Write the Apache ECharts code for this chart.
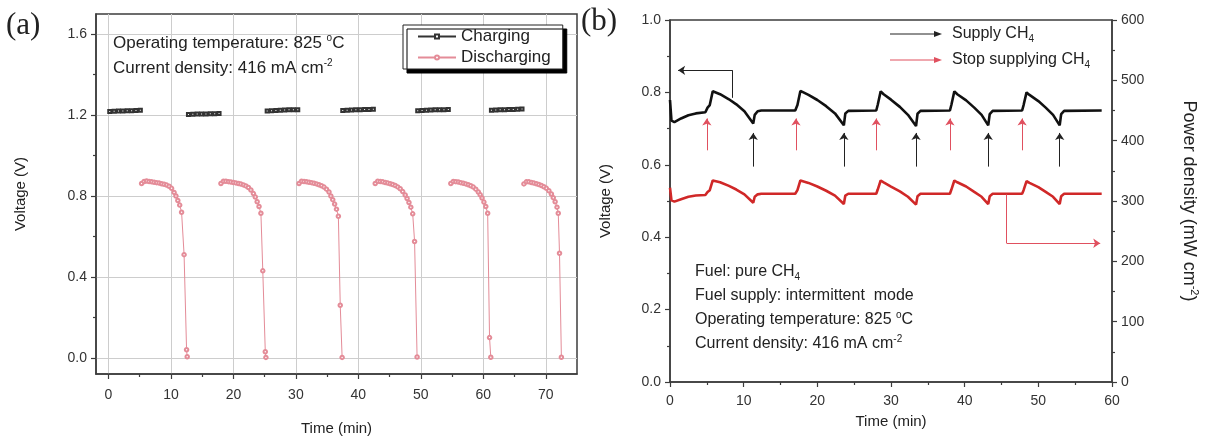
<!DOCTYPE html>
<html>
<head>
<meta charset="utf-8">
<script src="https://cdn.jsdelivr.net/npm/echarts@6/dist/echarts.min.js"></script>
<style>
  html, body { margin: 0; padding: 0; background: #fff; }
  #chart { width: 1208px; height: 439px; }
</style>
</head>
<body>
<div id="chart"></div>
<script>
// ---------- (a) charge / discharge cycling at 825 °C ----------
const chargeTimes = [
  [0.2, 0.9, 1.6, 2.3, 3.0, 3.7, 4.4, 5.1],
  [12.8, 13.5, 14.2, 14.9, 15.6, 16.3, 17.0, 17.7],
  [25.4, 26.1, 26.8, 27.5, 28.2, 28.9, 29.6, 30.3],
  [37.5, 38.2, 38.9, 39.6, 40.3, 41.0, 41.7, 42.4],
  [49.5, 50.2, 50.9, 51.6, 52.3, 53.0, 53.7, 54.4],
  [61.3, 62.0, 62.7, 63.4, 64.1, 64.8, 65.5, 66.2]
];
const chargeVolts = [
  [1.218, 1.219, 1.220, 1.221, 1.222, 1.222, 1.223, 1.224],
  [1.203, 1.204, 1.205, 1.205, 1.206, 1.207, 1.207, 1.208],
  [1.221, 1.222, 1.223, 1.224, 1.225, 1.226, 1.226, 1.227],
  [1.223, 1.224, 1.225, 1.226, 1.227, 1.228, 1.228, 1.229],
  [1.222, 1.223, 1.224, 1.225, 1.226, 1.226, 1.227, 1.228],
  [1.224, 1.225, 1.226, 1.227, 1.228, 1.228, 1.229, 1.230]
];
const dischargeTimes = [
  [5.3, 5.7, 6.1, 6.5, 6.9, 7.3, 7.7, 8.1, 8.5, 8.9, 9.3, 9.7, 10.1, 10.5, 10.8, 11.1, 11.4, 11.7, 12.1, 12.5, 12.6],
  [18.0, 18.4, 18.8, 19.2, 19.6, 20.0, 20.4, 20.8, 21.2, 21.6, 22.0, 22.4, 22.8, 23.2, 23.5, 23.8, 24.1, 24.4, 24.7, 25.1, 25.2],
  [30.5, 30.9, 31.3, 31.7, 32.1, 32.5, 32.9, 33.3, 33.7, 34.1, 34.5, 34.9, 35.3, 35.6, 35.9, 36.2, 36.5, 36.8, 37.1, 37.4],
  [42.7, 43.1, 43.5, 43.9, 44.3, 44.7, 45.1, 45.5, 45.9, 46.3, 46.7, 47.1, 47.5, 47.8, 48.1, 48.4, 48.7, 49.0, 49.4],
  [54.8, 55.2, 55.6, 56.0, 56.4, 56.8, 57.2, 57.6, 58.0, 58.4, 58.8, 59.2, 59.5, 59.8, 60.1, 60.4, 60.7, 61.0, 61.2],
  [66.5, 66.9, 67.3, 67.7, 68.1, 68.5, 68.9, 69.3, 69.7, 70.1, 70.5, 70.9, 71.2, 71.5, 71.8, 72.0, 72.2, 72.5]
];
const dischargeVolts = [
  [0.862, 0.872, 0.874, 0.872, 0.870, 0.868, 0.866, 0.864, 0.861, 0.858, 0.854, 0.848, 0.838, 0.818, 0.800, 0.778, 0.755, 0.720, 0.510, 0.040, 0.005],
  [0.862, 0.873, 0.873, 0.871, 0.869, 0.867, 0.865, 0.862, 0.859, 0.855, 0.850, 0.842, 0.830, 0.812, 0.795, 0.772, 0.748, 0.715, 0.430, 0.030, 0.002],
  [0.862, 0.873, 0.872, 0.870, 0.868, 0.866, 0.863, 0.860, 0.856, 0.851, 0.844, 0.834, 0.820, 0.800, 0.782, 0.760, 0.735, 0.700, 0.260, 0.002],
  [0.862, 0.873, 0.872, 0.870, 0.867, 0.864, 0.861, 0.857, 0.852, 0.845, 0.836, 0.822, 0.805, 0.788, 0.768, 0.745, 0.712, 0.575, 0.004],
  [0.862, 0.872, 0.871, 0.869, 0.866, 0.863, 0.860, 0.856, 0.851, 0.844, 0.834, 0.820, 0.806, 0.790, 0.770, 0.748, 0.715, 0.100, 0.003],
  [0.860, 0.870, 0.870, 0.867, 0.864, 0.861, 0.857, 0.852, 0.846, 0.838, 0.826, 0.810, 0.792, 0.772, 0.745, 0.715, 0.517, 0.003]
];
const timeTicksA = [0, 10, 20, 30, 40, 50, 60, 70];
const timeMinorA = [5, 15, 25, 35, 45, 55, 65];
const voltTicksA = [0, 0.4, 0.8, 1.2, 1.6];
const voltMinorA = [0.2, 0.6, 1.0, 1.4];

// ---------- (b) intermittent CH4 supply ----------
const timeB = [
  0, 0.2, 0.6, 1.5, 2.5, 3.5, 4.8, 5.1, 5.4, 5.8, 6.8, 8.0, 9.0, 10.1, 11.3, 11.5, 11.9, 12.4,
  17.0, 17.3, 17.7, 18.8, 20.0, 21.2, 22.4, 23.6, 23.8, 24.2,
  28.0, 28.2, 28.6, 29.0, 30.0, 31.2, 32.3, 33.4, 33.6, 34.0,
  38.0, 38.2, 38.6, 39.0, 40.2, 41.3, 42.3, 43.2, 43.4, 43.8,
  47.8, 48.0, 48.4, 48.8, 50.0, 51.0, 52.0, 52.9, 53.1, 53.5, 58.6
];
const voltageB = [
  0.779, 0.722, 0.718, 0.728, 0.737, 0.742, 0.745, 0.758, 0.765, 0.803, 0.795, 0.781, 0.767, 0.748, 0.714, 0.738, 0.748, 0.750,
  0.750, 0.765, 0.804, 0.793, 0.779, 0.762, 0.742, 0.709, 0.742, 0.749,
  0.750, 0.766, 0.803, 0.795, 0.780, 0.760, 0.738, 0.707, 0.741, 0.749,
  0.750, 0.766, 0.803, 0.795, 0.778, 0.758, 0.738, 0.709, 0.740, 0.749,
  0.750, 0.765, 0.800, 0.793, 0.776, 0.758, 0.738, 0.709, 0.740, 0.749, 0.750
];
const powerB = [
  322, 301, 299, 303, 307, 309, 310, 315, 318, 334, 331, 325, 319, 311, 297, 307, 311, 312,
  312, 318, 334, 330, 324, 317, 309, 295, 309, 312,
  312, 319, 334, 331, 324, 316, 307, 294, 308, 312,
  312, 319, 334, 331, 324, 315, 307, 295, 308, 312,
  312, 318, 333, 330, 323, 315, 307, 295, 308, 312, 312
];
const supplyTimes = [11.3, 23.6, 33.4, 43.2, 52.9];
const stopTimes = [5.0, 17.1, 28.0, 38.0, 47.8];

const FONT = '"Liberation Sans", Arial, sans-serif';
const AXIS = '#3c3c3c';
const LABEL = '#333';
const PINK = '#e48c98';
const RED = '#d02828';
const ARROW_RED = '#e0505f';

const pairs = (xs, ys) => xs.map((x, i) => [x, ys[i]]);
const fmt1 = v => v.toFixed(1);

function axisBase(extra) {
  return Object.assign({
    type: 'value',
    axisLine: { show: true, onZero: false, lineStyle: { color: AXIS, width: 1.5 } },
    axisTick: { show: true, length: 5, lineStyle: { color: AXIS, width: 1.2 } },
    axisLabel: { fontSize: 14, color: LABEL, fontFamily: FONT },
    splitLine: { show: false },
    nameTextStyle: { fontSize: 15, color: '#222', fontFamily: FONT }
  }, extra);
}
function minorAxis(extra) {
  return Object.assign({
    type: 'value',
    axisLine: { show: false, onZero: false },
    axisTick: { show: true, length: 3, lineStyle: { color: AXIS, width: 1.2 } },
    axisLabel: { show: false },
    splitLine: { show: false }
  }, extra);
}

const series = [];
chargeTimes.forEach((ts, i) => series.push({
  name: 'Charging', type: 'line', xAxisIndex: 0, yAxisIndex: 0,
  data: pairs(ts, chargeVolts[i]),
  symbol: 'emptyRect', symbolSize: 3,
  lineStyle: { color: '#333', width: 1 }, itemStyle: { color: '#333', borderWidth: 1 }
}));
dischargeTimes.forEach((ts, i) => series.push({
  name: 'Discharging', type: 'line', xAxisIndex: 0, yAxisIndex: 0,
  data: pairs(ts, dischargeVolts[i]),
  symbol: 'emptyCircle', symbolSize: 3.5,
  lineStyle: { color: PINK, width: 1 }, itemStyle: { color: PINK, borderWidth: 1 }
}));

const arrowBlack = { color: '#222', width: 1, type: 'solid' };
const arrowRed = { color: ARROW_RED, width: 1, type: 'solid' };
series.push({
  name: 'Voltage', type: 'line', xAxisIndex: 2, yAxisIndex: 2,
  data: pairs(timeB, voltageB), showSymbol: false,
  lineStyle: { color: '#111', width: 2.6 }, itemStyle: { color: '#111' },
  markLine: {
    silent: true, animation: false, symbol: ['none', 'arrow'], symbolSize: 7,
    label: { show: false }, lineStyle: arrowBlack,
    data: [
      ...supplyTimes.map(t => [{ coord: [t, 0.595], lineStyle: arrowBlack }, { coord: [t, 0.688] }]),
      ...stopTimes.map(t => [{ coord: [t, 0.640], lineStyle: arrowRed, itemStyle: { color: ARROW_RED } }, { coord: [t, 0.728] }]),
      [{ coord: [8.5, 0.785], symbol: 'none', lineStyle: arrowBlack }, { coord: [8.5, 0.861], symbol: 'none' }],
      [{ coord: [8.5, 0.861], symbol: 'none', lineStyle: arrowBlack }, { coord: [1.1, 0.861], symbol: 'arrow' }]
    ]
  }
});
series.push({
  name: 'Power density', type: 'line', xAxisIndex: 2, yAxisIndex: 3,
  data: pairs(timeB, powerB), showSymbol: false,
  lineStyle: { color: RED, width: 2.6 }, itemStyle: { color: RED },
  markLine: {
    silent: true, animation: false, symbol: ['none', 'arrow'], symbolSize: 7,
    label: { show: false }, lineStyle: arrowRed,
    data: [
      [{ coord: [45.7, 311], symbol: 'none', lineStyle: arrowRed, itemStyle: { color: ARROW_RED } }, { coord: [45.7, 230], symbol: 'none' }],
      [{ coord: [45.7, 230], symbol: 'none', lineStyle: arrowRed, itemStyle: { color: ARROW_RED } }, { coord: [58.4, 230], symbol: 'arrow' }]
    ]
  }
});

const richSup = { sup: { fontSize: 10, verticalAlign: 'top', lineHeight: 20 } };
const richSub = { sub: { fontSize: 10, verticalAlign: 'bottom', lineHeight: 20 } };

function txt(x, y, text, size, rich) {
  return {
    type: 'text', x: x, y: y, z: 100,
    style: {
      text: text, fill: '#222', font: size + 'px ' + FONT, verticalAlign: 'middle',
      lineHeight: 20, rich: rich || {}
    }
  };
}
function legendArrow(x1, x2, y, color) {
  return [
    { type: 'line', z: 100, shape: { x1: x1, y1: y, x2: x2 - 6, y2: y }, style: { stroke: color, lineWidth: 1 } },
    { type: 'polygon', z: 100, shape: { points: [[x2, y], [x2 - 8, y - 3], [x2 - 8, y + 3]] }, style: { fill: color } }
  ];
}

const option = {
  animation: false,
  backgroundColor: '#fff',
  textStyle: { fontFamily: FONT },
  grid: [
    { left: 96, top: 14, width: 481, height: 360, outerBoundsMode: 'none', show: true, borderColor: AXIS, borderWidth: 1.5, backgroundColor: 'transparent' },
    { left: 670, top: 20, width: 442, height: 362, outerBoundsMode: 'none', show: true, borderColor: AXIS, borderWidth: 1.5, backgroundColor: 'transparent' }
  ],
  xAxis: [
    axisBase({
      gridIndex: 0, min: -2, max: 75, splitNumber: 8,
      name: 'Time (min)', nameLocation: 'middle', nameGap: 47,
      axisTick: { show: true, customValues: timeTicksA, length: 5, lineStyle: { color: AXIS, width: 1.2 } },
      axisLabel: { customValues: timeTicksA, fontSize: 14, color: LABEL, fontFamily: FONT, margin: 14 },
      splitLine: { show: true, lineStyle: { color: '#cdcdcd', width: 1 } }
    }),
    minorAxis({ gridIndex: 0, min: -2, max: 75, position: 'bottom', axisTick: { show: true, customValues: timeMinorA, length: 3, lineStyle: { color: AXIS, width: 1.2 } } }),
    axisBase({
      gridIndex: 1, min: 0, max: 60, interval: 10,
      name: 'Time (min)', nameLocation: 'middle', nameGap: 32,
      minorTick: { show: true, splitNumber: 2, length: 3, lineStyle: { color: AXIS, width: 1.2 } },
      axisLabel: { fontSize: 14, color: LABEL, fontFamily: FONT, margin: 12 }
    })
  ],
  yAxis: [
    axisBase({
      gridIndex: 0, min: -0.08, max: 1.7,
      name: 'Voltage (V)', nameLocation: 'middle', nameGap: 68, nameRotate: 90,
      axisTick: { show: true, customValues: voltTicksA, length: 5, lineStyle: { color: AXIS, width: 1.2 } },
      axisLabel: { customValues: voltTicksA, formatter: fmt1, fontSize: 14, color: LABEL, fontFamily: FONT, margin: 9 },
      splitLine: { show: true, lineStyle: { color: '#cdcdcd', width: 1 } }
    }),
    minorAxis({ gridIndex: 0, min: -0.08, max: 1.7, position: 'left', axisTick: { show: true, customValues: voltMinorA, length: 3, lineStyle: { color: AXIS, width: 1.2 } } }),
    axisBase({
      gridIndex: 1, min: 0, max: 1, interval: 0.2, position: 'left',
      name: 'Voltage (V)', nameLocation: 'middle', nameGap: 57, nameRotate: 90,
      minorTick: { show: true, splitNumber: 2, length: 3, lineStyle: { color: AXIS, width: 1.2 } },
      axisLabel: { formatter: fmt1, fontSize: 14, color: LABEL, fontFamily: FONT, margin: 9 }
    }),
    axisBase({
      gridIndex: 1, min: 0, max: 600, interval: 100, position: 'right',
      name: 'Power density (mW cm{sup|-2})', nameLocation: 'middle', nameGap: 66, nameRotate: -90,
      nameTextStyle: { fontSize: 18, color: '#222', fontFamily: FONT, lineHeight: 22, rich: { sup: { fontSize: 11, verticalAlign: 'top', lineHeight: 22 } } },
      minorTick: { show: true, splitNumber: 2, length: 3, lineStyle: { color: AXIS, width: 1.2 } },
      axisLabel: { fontSize: 14, color: LABEL, fontFamily: FONT, margin: 9 }
    })
  ],
  legend: {
    data: ['Charging', 'Discharging'],
    left: 403, top: 25, orient: 'vertical',
    itemWidth: 38, itemHeight: 5, itemGap: 4,
    padding: [3, 12, 3, 14],
    backgroundColor: '#fff', borderColor: '#222', borderWidth: 1,
    shadowColor: '#000', shadowBlur: 0, shadowOffsetX: 4, shadowOffsetY: 4,
    textStyle: { fontSize: 17, color: '#222', fontFamily: FONT },
    selectedMode: false
  },
  graphic: [
    { type: 'text', x: 6, y: 26, z: 100, style: { text: '(a)', font: '31px "Liberation Serif", serif', fill: '#222', verticalAlign: 'middle' } },
    { type: 'text', x: 581, y: 22, z: 100, style: { text: '(b)', font: '31px "Liberation Serif", serif', fill: '#222', verticalAlign: 'middle' } },
    txt(113, 43, 'Operating temperature: 825 {sup|o}C', 17, richSup),
    txt(113, 68, 'Current density: 416 mA cm{sup|-2}', 17, richSup),
    txt(695, 272, 'Fuel: pure CH{sub|4}', 16, richSub),
    txt(695, 296, 'Fuel supply: intermittent  mode', 16),
    txt(695, 320, 'Operating temperature: 825 {sup|o}C', 16, richSup),
    txt(695, 344, 'Current density: 416 mA cm{sup|-2}', 16, richSup),
    ...legendArrow(890, 942, 34, '#222'),
    ...legendArrow(890, 942, 60, ARROW_RED),
    txt(952, 34, 'Supply CH{sub|4}', 16, richSub),
    txt(952, 60, 'Stop supplying CH{sub|4}', 16, richSub)
  ],
  series: series
};

const chart = echarts.init(document.getElementById('chart'), null, { renderer: 'canvas' });
chart.setOption(option);
</script>
</body>
</html>
